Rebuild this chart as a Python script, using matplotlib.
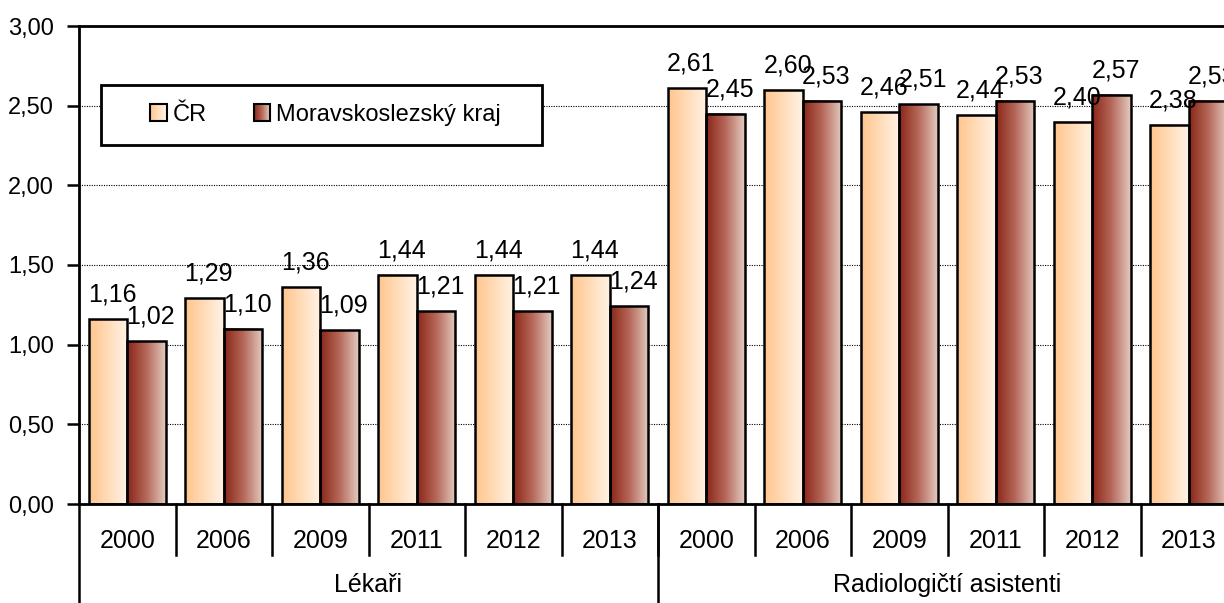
import numpy as np
import matplotlib
matplotlib.use("Agg")
import matplotlib.pyplot as plt
from matplotlib.colors import LinearSegmentedColormap
from matplotlib.legend_handler import HandlerBase
from matplotlib.patches import Rectangle, Patch

plt.rcParams['font.family'] = ['Liberation Sans Narrow', 'Liberation Sans', 'DejaVu Sans']

# data
years = ['2000', '2006', '2009', '2011', '2012', '2013',
         '2000', '2006', '2009', '2011', '2012', '2013']
groups = ['Lékaři', 'Radiologičtí asistenti']
group_size = [6, 6]
series = ['ČR', 'Moravskoslezský kraj']
cr = [1.16, 1.29, 1.36, 1.44, 1.44, 1.44, 2.61, 2.60, 2.46, 2.44, 2.40, 2.38]
msk = [1.02, 1.10, 1.09, 1.21, 1.21, 1.24, 2.45, 2.53, 2.51, 2.53, 2.57, 2.53]
yticks = [0.0, 0.5, 1.0, 1.5, 2.0, 2.5, 3.0]

cmap_cr = LinearSegmentedColormap.from_list('cr', ['#ffc58c', '#fff3e6'])
cmap_msk = LinearSegmentedColormap.from_list('msk', ['#8a2617', '#b5685a', '#e4cbc0'])

FS = 18


class GradientHandler(HandlerBase):
    # legend swatch drawn as thin strips so it shows the gradient too
    def __init__(self, cmap):
        super().__init__()
        self.cmap = cmap

    def create_artists(self, legend, orig_handle, xdescent, ydescent,
                       width, height, fontsize, trans):
        n = 16
        arts = []
        for i in range(n):
            arts.append(Rectangle((-xdescent + width * i / n, -ydescent), width / n, height,
                                  facecolor=self.cmap((i + 0.5) / n), edgecolor='none',
                                  transform=trans))
        arts.append(Rectangle((-xdescent, -ydescent), width, height, facecolor='none',
                              edgecolor='black', lw=1.5, transform=trans))
        return arts


W, H = 1224, 603
fig = plt.figure(figsize=(W / 100, H / 100), dpi=100)
ax = fig.add_axes([79 / W, (H - 504) / H, 1158 / W, 478 / H])

x = np.arange(len(years))
bw = 0.4


def grad_bars(xpos, vals, cmap):
    bars = ax.bar(xpos, vals, bw, facecolor='none', edgecolor='black', lw=1.8, zorder=3)
    grad = np.linspace(0, 1, 256).reshape(1, -1)
    for b in bars:
        x0, w, h = b.get_x(), b.get_width(), b.get_height()
        ax.imshow(grad, cmap=cmap, aspect='auto', extent=[x0, x0 + w, 0, h],
                  interpolation='bicubic', zorder=2)
    return bars


b1 = grad_bars(x - bw / 2, cr, cmap_cr)
b2 = grad_bars(x + bw / 2, msk, cmap_msk)

for bars in (b1, b2):
    for b in bars:
        v = b.get_height()
        ax.annotate(f"{v:.2f}".replace('.', ','), (b.get_x() + b.get_width() / 2, v),
                    xytext=(3, 9), textcoords='offset points', ha='center', va='bottom',
                    fontsize=FS, zorder=4)

ax.set_xlim(-0.5, len(years) - 0.5)
ax.set_ylim(0, 3)
ax.set_yticks(yticks, [f"{t:.2f}".replace('.', ',') for t in yticks])
ax.tick_params(axis='y', direction='out', length=9, width=1.8, labelsize=17, pad=9)
ax.set_xticks([])

ax.grid(axis='y', linestyle=(0, (1, 1.2)), color='black', lw=0.8, zorder=1)
ax.get_ygridlines()[-1].set_visible(False)
ax.get_ygridlines()[0].set_visible(False)

for s in ['left', 'bottom', 'top']:
    ax.spines[s].set_linewidth(2)
ax.spines['right'].set_visible(False)

# category axis below the plot: years, then groups
tr = ax.get_xaxis_transform()
for i, yr in enumerate(years):
    ax.text(i, -37 / 478, yr, transform=tr, ha='center', va='center', fontsize=FS)
for i in range(1, len(years)):
    ax.plot([i - 0.5, i - 0.5], [0, -51 / 478], transform=tr, color='black', lw=1.8, clip_on=False)
start = -0.5
for g, n in zip(groups, group_size):
    ax.text(start + n / 2, -81 / 478, g, transform=tr, ha='center', va='center', fontsize=FS)
    ax.plot([start, start], [0, -99 / 478], transform=tr, color='black', lw=1.8, clip_on=False)
    start += n
ax.plot([start, start], [0, -99 / 478], transform=tr, color='black', lw=1.8, clip_on=False)

# legend box
fig.patches.append(Rectangle((101 / W, 1 - 145 / H), 441 / W, 60 / H, transform=fig.transFigure,
                             facecolor='white', edgecolor='black', lw=2, zorder=4))
handles = [Patch(label=series[0]), Patch(label=series[1])]
leg = fig.legend(handles=handles, loc='center left', bbox_to_anchor=(150 / W, 1 - 115 / H),
                 ncol=2, frameon=False, fontsize=17, handlelength=0.7, handleheight=0.7,
                 handletextpad=0.25, columnspacing=2.0, borderpad=0, borderaxespad=0,
                 handler_map={handles[0]: GradientHandler(cmap_cr),
                              handles[1]: GradientHandler(cmap_msk)})
leg.set_zorder(5)

fig.savefig('out.png', dpi=100)
